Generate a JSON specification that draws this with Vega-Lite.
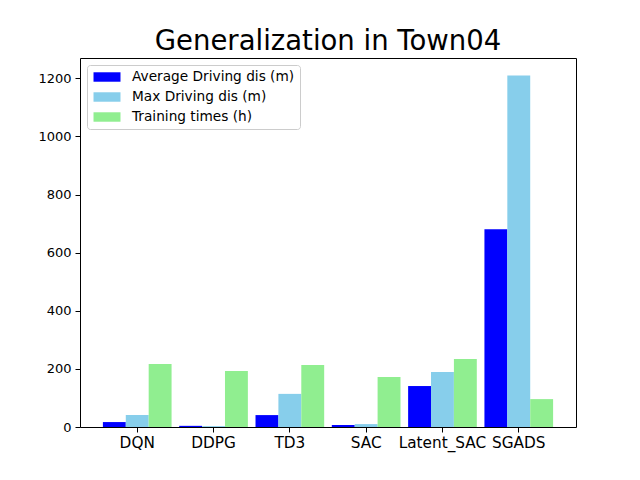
{
  "$schema": "https://vega.github.io/schema/vega-lite/v6.json",
  "autosize": {"type": "none"},
  "padding": {"left": 80, "top": 58, "right": 64, "bottom": 53},
  "width": 496,
  "height": 369,
  "background": "white",
  "title": {
    "text": "Generalization in Town04",
    "font": "DejaVu Sans",
    "fontSize": 27.5,
    "fontWeight": "normal",
    "color": "black",
    "anchor": "middle",
    "frame": "group",
    "baseline": "alphabetic",
    "offset": -19
  },
  "config": {
    "view": {"stroke": "black", "strokeWidth": 1},
    "font": "DejaVu Sans",
    "axis": {
      "grid": false,
      "domainColor": "black",
      "tickColor": "black",
      "tickSize": 5,
      "labelColor": "black",
      "labelFont": "DejaVu Sans",
      "titleFont": "DejaVu Sans"
    }
  },
  "data": {
    "values": [
      {"algo": "DQN", "metric": "Average Driving dis (m)", "value": 17},
      {"algo": "DQN", "metric": "Max Driving dis (m)", "value": 41},
      {"algo": "DQN", "metric": "Training times (h)", "value": 217},
      {"algo": "DDPG", "metric": "Average Driving dis (m)", "value": 4},
      {"algo": "DDPG", "metric": "Max Driving dis (m)", "value": 3},
      {"algo": "DDPG", "metric": "Training times (h)", "value": 193},
      {"algo": "TD3", "metric": "Average Driving dis (m)", "value": 41},
      {"algo": "TD3", "metric": "Max Driving dis (m)", "value": 114},
      {"algo": "TD3", "metric": "Training times (h)", "value": 213},
      {"algo": "SAC", "metric": "Average Driving dis (m)", "value": 7},
      {"algo": "SAC", "metric": "Max Driving dis (m)", "value": 10},
      {"algo": "SAC", "metric": "Training times (h)", "value": 172},
      {"algo": "Latent_SAC", "metric": "Average Driving dis (m)", "value": 141},
      {"algo": "Latent_SAC", "metric": "Max Driving dis (m)", "value": 189},
      {"algo": "Latent_SAC", "metric": "Training times (h)", "value": 234},
      {"algo": "SGADS", "metric": "Average Driving dis (m)", "value": 681},
      {"algo": "SGADS", "metric": "Max Driving dis (m)", "value": 1210},
      {"algo": "SGADS", "metric": "Training times (h)", "value": 96}
    ]
  },
  "mark": {"type": "bar"},
  "encoding": {
    "x": {
      "field": "algo",
      "type": "nominal",
      "sort": ["DQN", "DDPG", "TD3", "SAC", "Latent_SAC", "SGADS"],
      "scale": {"paddingInner": 0.1, "paddingOuter": 0.3},
      "axis": {"title": null, "labelAngle": 0, "labelFontSize": 15.3, "labelPadding": 3, "domain": false}
    },
    "xOffset": {
      "field": "metric",
      "type": "nominal",
      "sort": ["Average Driving dis (m)", "Max Driving dis (m)", "Training times (h)"],
      "scale": {"paddingInner": 0, "paddingOuter": 0}
    },
    "y": {
      "field": "value",
      "type": "quantitative",
      "scale": {"domain": [0, 1270], "nice": false},
      "axis": {"title": null, "values": [0, 200, 400, 600, 800, 1000, 1200], "format": "d", "labelFontSize": 13, "labelPadding": 4, "domain": false}
    },
    "color": {
      "field": "metric",
      "type": "nominal",
      "sort": ["Average Driving dis (m)", "Max Driving dis (m)", "Training times (h)"],
      "scale": {
        "domain": ["Average Driving dis (m)", "Max Driving dis (m)", "Training times (h)"],
        "range": ["#0000FF", "#87CEEB", "#90EE90"]
      },
      "legend": {
        "title": null,
        "orient": "top-left",
        "offset": 7,
        "fillColor": "white",
        "strokeColor": "#cccccc",
        "cornerRadius": 3,
        "padding": 5,
        "labelFont": "DejaVu Sans",
        "labelFontSize": 13.7,
        "labelColor": "black",
        "labelLimit": 400,
        "labelOffset": 18,
        "symbolOffset": 8,
        "symbolType": "M-2,-0.7H2V0.7H-2Z",
        "symbolSize": 182,
        "symbolStrokeWidth": 0,
        "symbolOpacity": 1,
        "rowPadding": 6
      }
    }
  }
}
